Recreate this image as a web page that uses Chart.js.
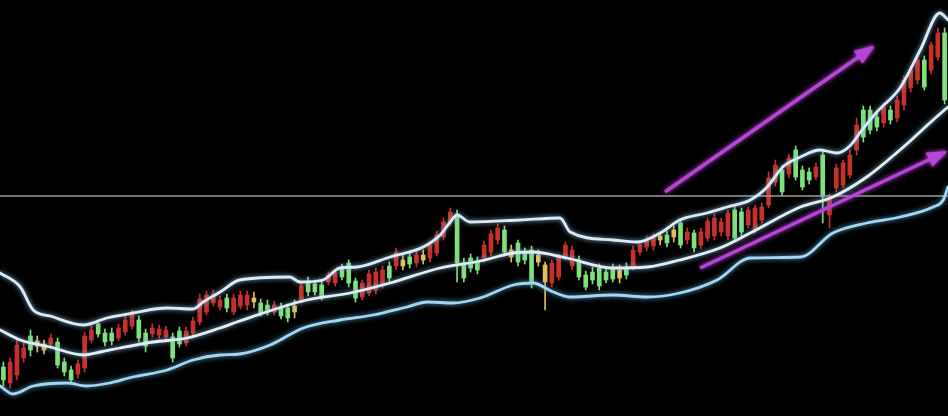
<!DOCTYPE html>
<html><head><meta charset="utf-8">
<script src="https://cdn.jsdelivr.net/npm/chart.js@4.4.1/dist/chart.umd.min.js"></script>
<style>html,body{margin:0;padding:0;background:#000;overflow:hidden}#wrap{width:948px;height:416px;position:relative;background:#000}</style>
</head><body><div id="wrap"><canvas id="c"></canvas></div>
<script>
// trading days (category index)
const days = Array.from({length: 140}, (_, i) => i + 1);

const open = [
  49,33,41,58,80,75,66,72,74,54,
  46,42,48,76,92,83,83,78,84,90,
  96,83,82,81,79,79,85,73,83,94,
  104,113,109,118,104,110,111,114,113,111,
  104,109,108,104,116,135,132,131,134,133,
  148,153,135,119,123,126,131,150,150,156,
  159,153,156,158,163,179,194,202,153,158,
  154,158,164,176,186,166,173,164,166,161,
  134,133,139,159,150,156,141,144,148,144,
  148,146,149,149,164,169,170,176,181,179,
  193,176,183,171,178,180,184,180,206,204,
  191,186,196,211,234,246,242,266,246,244,
  239,261,201,228,231,241,266,306,306,299,
  293,306,298,311,328,336,356,346,359,383
];
const close = [
  36,54,71,68,66,70,72,78,51,44,
  36,52,80,86,82,74,75,88,96,101,
  78,70,88,87,86,58,72,85,95,117,
  121,122,116,108,118,121,121,118,103,104,
  111,100,98,110,130,124,124,119,141,143,
  139,133,118,133,142,144,146,138,164,150,
  152,161,161,171,181,194,204,153,138,148,
  146,171,182,188,164,159,154,156,133,154,
  151,153,159,171,166,139,129,136,130,136,
  137,138,141,166,171,176,178,180,173,186,
  171,184,168,184,195,198,194,203,178,184,
  206,208,209,238,251,224,258,239,229,236,
  249,219,218,248,253,261,291,279,286,289,
  309,296,316,336,346,356,329,371,383,316
];
const high = [
  54,58,76,73,86,80,76,82,78,58,
  50,56,84,91,96,87,88,92,101,106,
  100,87,92,91,90,83,89,89,99,122,
  125,126,120,122,122,125,125,124,117,116,
  115,113,112,116,133,139,136,135,144,146,
  152,156,138,136,146,148,150,154,168,161,
  163,165,166,175,185,198,208,206,158,162,
  159,175,186,192,190,171,176,168,170,166,
  154,156,162,174,170,160,145,149,152,148,
  152,151,153,170,175,180,182,184,185,190,
  196,188,186,188,198,202,198,206,209,208,
  209,211,213,244,256,250,262,270,250,248,
  253,266,222,252,256,266,298,310,310,304,
  313,310,320,340,350,360,360,374,388,388
];
const low = [
  30,28,36,54,60,64,62,70,48,40,
  32,38,44,73,79,70,71,75,81,87,
  74,64,79,78,76,54,69,70,80,91,
  101,110,106,104,101,107,106,108,100,101,
  101,97,94,98,113,120,121,116,131,130,
  136,129,114,116,120,122,128,134,146,146,
  148,149,152,154,160,176,191,134,134,144,
  142,154,160,172,160,154,150,152,128,150,
  106,129,136,156,146,136,126,132,126,133,
  134,133,137,146,161,165,166,171,169,174,
  168,172,164,167,175,176,180,176,174,180,
  188,183,193,208,230,220,238,236,226,232,
  236,193,188,224,228,238,261,274,282,285,
  289,292,294,306,324,332,326,342,356,312
];

// Bollinger bands (day, value)
const upperDay = [0.5,3.5,5.4,7.9,12.8,16.3,20.1,25.2,29.0,30.5,33.0,35.9,43.3,44.8,48.2,50.7,53.2,58.1,63.0,65.5,67.0,68.0,69.9,77.3,83.2,84.7,91.0,94.6,98.0,100.9,104.9,107.9,111.3,113.8,116.1,118.7,121.6,124.1,126.0,127.8,130.0,133.4,136.4,139.3,140.5];
const upperVal = [143,129,106,100,91,98,103,108,107,114,124,136,139,134,136,148,149,159,169,181,194,201,194,196,198,184,176,174,183,196,203,209,216,229,249,259,266,263,270,286,304,328,366,403,396];
const midDay = [0.5,3.5,7.9,12.8,15.3,18.2,23.1,28.1,33.0,35.9,45.8,52.2,58.1,65.5,71.4,76.3,79.2,84.2,91.0,96.1,100.9,106.8,111.3,118.7,123.5,128.5,133.4,138.3,140.5];
const midVal = [86,76,69,61,64,68,74,78,88,95,116,123,133,148,155,163,164,158,148,149,156,168,183,209,219,239,266,296,309];
const lowDay = [0.5,2.4,5.4,10.4,13.3,16.7,20.1,25.2,29.0,33.0,35.9,40.4,45.3,50.7,55.6,60.6,63.6,67.4,71.4,76.3,79.2,82.2,84.7,91.0,96.1,100.9,106.4,111.3,118.7,123.5,128.5,133.4,138.3,139.8,140.5];
const lowVal = [30,22,30,33,30,33,39,46,56,61,62,71,88,96,101,109,114,113,118,131,133,124,119,121,119,123,136,158,159,183,193,199,209,216,229];

// reference level and trend arrows
const levelValue = 220;
const arrow1Day = [98.7, 129.4];
const arrow1Val = [224, 369];
const arrow2Day = [103.9, 140.1];
const arrow2Val = [148, 264];

const RED = '#c8302a', GREEN = '#7ee27a', YELLOW = '#dfbf5c';
function candleColor(i) {
  const body = Math.abs(close[i] - open[i]);
  const range = high[i] - low[i];
  if (range > 0 && body / range < 0.45) return YELLOW;
  return close[i] >= open[i] ? RED : GREEN;
}
const colors = days.map((d, i) => candleColor(i));
const pts = (xs, ys) => xs.map((x, i) => ({x: x, y: ys[i]}));

const glow = {
  id: 'glow',
  beforeDatasetDraw(chart, args) {
    const ds = chart.data.datasets[args.index];
    if (!ds.glow) return;
    chart.ctx.save();
    chart.ctx.shadowColor = ds.glow;
    chart.ctx.shadowBlur = 5;
  },
  afterDatasetDraw(chart, args) {
    const ds = chart.data.datasets[args.index];
    if (!ds.glow) return;
    chart.ctx.restore();
  }
};

const arrowHeads = {
  id: 'arrowHeads',
  afterDatasetsDraw(chart) {
    const ctx = chart.ctx;
    chart.data.datasets.forEach((ds, di) => {
      if (!ds.arrow) return;
      const p = chart.getDatasetMeta(di).data;
      const a = p[p.length - 2], b = p[p.length - 1];
      const ang = Math.atan2(b.y - a.y, b.x - a.x);
      const len = 18, w = 8;
      ctx.save();
      ctx.fillStyle = ds.borderColor;
      ctx.shadowColor = ds.borderColor;
      ctx.shadowBlur = 5;
      ctx.beginPath();
      ctx.moveTo(b.x + 2 * Math.cos(ang), b.y + 2 * Math.sin(ang));
      ctx.lineTo(b.x - len * Math.cos(ang) + w * Math.sin(ang), b.y - len * Math.sin(ang) - w * Math.cos(ang));
      ctx.lineTo(b.x - len * Math.cos(ang) - w * Math.sin(ang), b.y - len * Math.sin(ang) + w * Math.cos(ang));
      ctx.closePath();
      ctx.fill();
      ctx.restore();
    });
  }
};

const lineBase = {type: 'line', pointRadius: 0, fill: false, cubicInterpolationMode: 'monotone', borderJoinStyle: 'round', borderCapStyle: 'round'};

new Chart(document.getElementById('c'), {
  type: 'bar',
  data: {
    datasets: [
      Object.assign({}, lineBase, {label: 'Trend 1', data: pts(arrow1Day, arrow1Val), borderColor: '#b645d6', borderWidth: 3.5, arrow: true, glow: '#b645d6', order: -2, borderCapStyle: 'butt'}),
      Object.assign({}, lineBase, {label: 'Trend 2', data: pts(arrow2Day, arrow2Val), borderColor: '#b645d6', borderWidth: 3.5, arrow: true, glow: '#b645d6', order: -1, borderCapStyle: 'butt'}),
      Object.assign({}, lineBase, {label: 'Upper', data: pts(upperDay, upperVal), borderColor: '#dde9f4', borderWidth: 2.8, glow: '#7fb4dc', order: 0}),
      Object.assign({}, lineBase, {label: 'Mid', data: pts(midDay, midVal), borderColor: '#e4eef2', borderWidth: 2.8, glow: '#7fb4dc', order: 1}),
      Object.assign({}, lineBase, {label: 'Lower', data: pts(lowDay, lowVal), borderColor: '#a3d6ef', borderWidth: 2.8, glow: '#5aa6d6', order: 2}),
      Object.assign({}, lineBase, {label: 'Level', data: [{x: 0.5, y: levelValue}, {x: 140.5, y: levelValue}], borderColor: '#9c9c9c', borderWidth: 1.5, order: 3, cubicInterpolationMode: 'default'}),
      {label: 'Body', data: days.map((d, i) => ({x: d, y: [open[i], close[i]]})), backgroundColor: colors, borderWidth: 0, barThickness: 4, grouped: false, order: 4},
      {label: 'Wick', data: days.map((d, i) => ({x: d, y: [low[i], high[i]]})), backgroundColor: colors, borderWidth: 0, barThickness: 1, grouped: false, order: 5}
    ]
  },
  options: {
    responsive: true, maintainAspectRatio: false, animation: false,
    layout: {padding: 0},
    plugins: {legend: {display: false}, tooltip: {enabled: false}},
    scales: {
      x: {type: 'linear', min: 0.5, max: 140.5, display: false, offset: false},
      y: {type: 'linear', min: 0, max: 416, display: false}
    }
  },
  plugins: [glow, arrowHeads]
});
</script>
</body></html>
